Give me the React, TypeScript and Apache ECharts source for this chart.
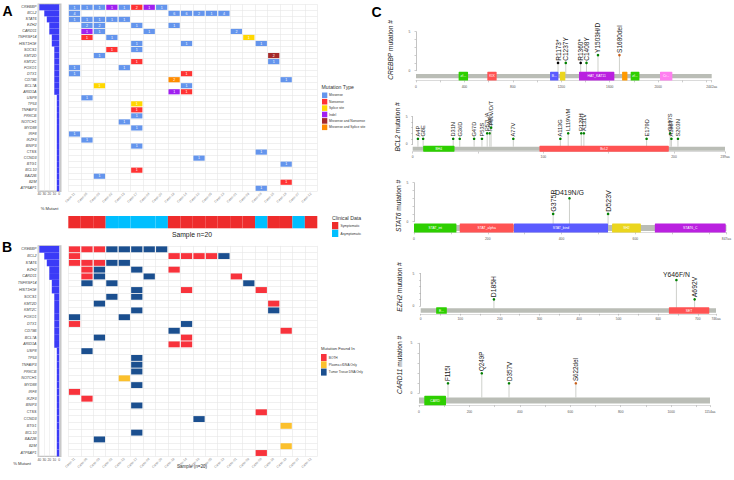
import React, { useEffect, useRef } from 'react';
import * as echarts from 'echarts';

const FONT = '"Liberation Sans", Arial, sans-serif';

// ---------------- Panels A & B data ----------------
const genes = ['CREBBP', 'BCL2', 'STAT6', 'EZH2', 'CARD11', 'TNFRSF14', 'HIST1H1E', 'SOCS1', 'KMT2D', 'KMT2C', 'FOXO1', 'DTX1', 'CD79B', 'BCL7A', 'ARID1A', 'USP8', 'TP53', 'TNFAIP3', 'PRKCB', 'NOTCH1', 'MYD88', 'IRF8', 'IKZF3', 'BNIP3', 'CTSS', 'CCND3', 'BTG1', 'BCL10', 'BAZ2B', 'B2M', 'ATP6AP1'];
const pctMutant = [40, 30, 25, 20, 20, 15, 15, 10, 10, 10, 10, 10, 10, 10, 10, 5, 5, 5, 5, 5, 5, 5, 5, 5, 5, 5, 5, 5, 5, 5, 5];
const samples = ['Case-11', 'Case-06', 'Case-03', 'Case-02', 'Case-15', 'Case-17', 'Case-04', 'Case-20', 'Case-19', 'Case-14', 'Case-10', 'Case-05', 'Case-13', 'Case-01', 'Case-09', 'Case-08', 'Case-16', 'Case-18', 'Case-07', 'Case-12'];
const clinicalCategories = ['Symptomatic', 'Asymptomatic'];
const clinicalStatus = [0, 0, 0, 1, 1, 1, 1, 1, 0, 0, 0, 0, 0, 0, 0, 1, 0, 0, 1, 0];

const mutationTypes = ['Missense', 'Nonsense', 'Splice site', 'Indel', 'Missense and Nonsense', 'Missense and Splice site'];
// [gene, sample column, mutation type index, number of mutations]
const mutationCells: [string, number, number, number][] = [
  ['CREBBP', 0, 0, 1], ['CREBBP', 1, 0, 1], ['CREBBP', 2, 0, 1], ['CREBBP', 3, 3, 1], ['CREBBP', 4, 0, 1], ['CREBBP', 5, 1, 2], ['CREBBP', 6, 3, 1], ['CREBBP', 7, 0, 1],
  ['BCL2', 0, 0, 4], ['BCL2', 8, 0, 6], ['BCL2', 9, 0, 6], ['BCL2', 10, 0, 2], ['BCL2', 11, 0, 1], ['BCL2', 12, 0, 4],
  ['STAT6', 0, 0, 1], ['STAT6', 1, 0, 1], ['STAT6', 2, 0, 1], ['STAT6', 3, 0, 1], ['STAT6', 4, 0, 1],
  ['EZH2', 1, 0, 2], ['EZH2', 2, 0, 2], ['EZH2', 5, 0, 1], ['EZH2', 8, 0, 1],
  ['CARD11', 1, 3, 1], ['CARD11', 2, 0, 1], ['CARD11', 6, 0, 1], ['CARD11', 13, 0, 2],
  ['TNFRSF14', 1, 1, 1], ['TNFRSF14', 3, 0, 1], ['TNFRSF14', 14, 2, 1],
  ['HIST1H1E', 5, 0, 1], ['HIST1H1E', 9, 0, 1], ['HIST1H1E', 15, 0, 1],
  ['SOCS1', 3, 1, 1], ['SOCS1', 5, 0, 1],
  ['KMT2D', 2, 0, 1], ['KMT2D', 16, 4, 2],
  ['KMT2C', 5, 1, 1], ['KMT2C', 16, 0, 1],
  ['FOXO1', 0, 0, 1], ['FOXO1', 4, 0, 1],
  ['DTX1', 0, 0, 1], ['DTX1', 9, 1, 1],
  ['CD79B', 8, 5, 2], ['CD79B', 17, 0, 1],
  ['BCL7A', 2, 2, 1], ['BCL7A', 9, 0, 1],
  ['ARID1A', 8, 3, 1], ['ARID1A', 9, 1, 1],
  ['USP8', 1, 0, 1], ['TP53', 5, 2, 1], ['TNFAIP3', 5, 1, 1], ['PRKCB', 5, 0, 1], ['NOTCH1', 4, 0, 1],
  ['MYD88', 5, 0, 1], ['IRF8', 0, 0, 1], ['IKZF3', 1, 0, 1], ['BNIP3', 5, 0, 1], ['CTSS', 15, 0, 1],
  ['CCND3', 10, 0, 1], ['BTG1', 17, 0, 1], ['BCL10', 5, 1, 1], ['BAZ2B', 2, 0, 1], ['B2M', 17, 1, 1], ['ATP6AP1', 15, 0, 1],
];

const sourceTypes = ['BOTH', 'Plasma cfDNA Only', 'Tumor Tissue DNA Only'];
// [gene, sample column, source index]
const sourceCells: [string, number, number][] = [
  ['CREBBP', 0, 0], ['CREBBP', 1, 0], ['CREBBP', 2, 0], ['CREBBP', 3, 2], ['CREBBP', 4, 2], ['CREBBP', 5, 2], ['CREBBP', 6, 2], ['CREBBP', 7, 2],
  ['BCL2', 0, 0], ['BCL2', 8, 0], ['BCL2', 9, 0], ['BCL2', 10, 0], ['BCL2', 11, 0], ['BCL2', 12, 2],
  ['STAT6', 0, 0], ['STAT6', 1, 0], ['STAT6', 2, 0], ['STAT6', 3, 2], ['STAT6', 4, 2],
  ['EZH2', 1, 0], ['EZH2', 2, 2], ['EZH2', 5, 2], ['EZH2', 8, 0],
  ['CARD11', 1, 0], ['CARD11', 2, 2], ['CARD11', 6, 2], ['CARD11', 13, 0],
  ['TNFRSF14', 1, 2], ['TNFRSF14', 3, 2], ['TNFRSF14', 14, 2],
  ['HIST1H1E', 5, 2], ['HIST1H1E', 9, 0], ['HIST1H1E', 15, 0],
  ['SOCS1', 3, 2], ['SOCS1', 5, 2],
  ['KMT2D', 2, 2], ['KMT2D', 16, 0],
  ['KMT2C', 5, 2], ['KMT2C', 16, 2],
  ['FOXO1', 0, 2], ['FOXO1', 4, 2],
  ['DTX1', 0, 0], ['DTX1', 9, 2],
  ['CD79B', 8, 2], ['CD79B', 17, 0],
  ['BCL7A', 2, 2], ['BCL7A', 9, 0],
  ['ARID1A', 8, 0], ['ARID1A', 9, 0],
  ['USP8', 1, 2], ['TP53', 5, 2], ['TNFAIP3', 5, 2], ['PRKCB', 5, 2], ['NOTCH1', 4, 1],
  ['MYD88', 5, 2], ['IRF8', 0, 0], ['IKZF3', 1, 0], ['BNIP3', 5, 2], ['CTSS', 15, 0],
  ['CCND3', 10, 2], ['BTG1', 17, 1], ['BCL10', 5, 2], ['BAZ2B', 2, 2], ['B2M', 17, 1], ['ATP6AP1', 15, 0],
];

// ---------------- Panel C data ----------------
// domains: [label shown, start aa, end aa, family]
// mutations: [label, position aa, count, class]
const crebbpLength = 2442;
const crebbpDomains: [string, number, number, string][] = [
  ['zf...', 352, 430, 'zf-TAZ'], ['KIX', 589, 666, 'KIX'], ['B...', 1107, 1176, 'Bromodomain'], ['', 1189, 1233, 'DUF902'],
  ['HAT_KAT11', 1346, 1638, 'HAT_KAT11'], ['', 1702, 1746, 'ZZ'], ['zf...', 1773, 1845, 'zf-TAZ'], ['Cr...', 2015, 2117, 'Creb_binding'],
];
const crebbpMutations: [string, number, number, string][] = [
  ['R1173*', 1173, 1, 'truncating'], ['C1237Y', 1237, 1, 'missense'], ['R1360*', 1360, 1, 'truncating'],
  ['C1408Y', 1408, 1, 'missense'], ['Y1503H/D', 1503, 2, 'missense'], ['S1680del', 1680, 2, 'inframe'],
];

const bcl2Length = 239;
const bcl2Domains: [string, number, number, string][] = [['BH4', 8, 32, 'BH4'], ['Bcl-2', 97, 196, 'Bcl-2']];
const bcl2Mutations: [string, number, number, string][] = [
  ['A4P', 4, 1, 'missense'], ['G8E', 8, 1, 'missense'], ['D31N', 31, 1, 'missense'], ['G36D', 36, 1, 'missense'],
  ['G47D', 47, 1, 'missense'], ['P53S', 53, 1, 'missense'], ['P57L/A', 57, 2, 'missense'], ['P59A', 59, 2, 'missense'],
  ['P60V/D/T', 60, 3, 'missense'], ['A77V', 77, 1, 'missense'], ['A113G', 113, 1, 'missense'], ['L119V/M', 119, 2, 'missense'],
  ['R129H', 129, 2, 'missense'], ['A131V', 131, 2, 'missense'], ['E179D', 179, 1, 'missense'], ['G197S', 197, 2, 'missense'],
  ['A198T', 198, 1, 'missense'], ['S203N', 203, 1, 'missense'],
];

const stat6Length = 847;
const stat6Domains: [string, number, number, string][] = [
  ['STAT_int', 0, 115, 'STAT_int'], ['STAT_alpha', 124, 270, 'STAT_alpha'], ['STAT_bind', 271, 526, 'STAT_bind'],
  ['SH2', 537, 615, 'SH2'], ['STAT6_C', 653, 845, 'STAT6_C'],
];
const stat6Mutations: [string, number, number, string][] = [
  ['G375R', 375, 1, 'missense'], ['D419N/G', 419, 3, 'missense'], ['D523V', 523, 1, 'missense'],
];

const ezh2Length = 746;
const ezh2Domains: [string, number, number, string][] = [['E...', 39, 66, 'EZH2_WD-Binding'], ['SET', 627, 729, 'SET']];
const ezh2Mutations: [string, number, number, string][] = [
  ['D185H', 185, 1, 'missense'], ['Y646F/N', 646, 4, 'missense'], ['A692V', 692, 1, 'missense'],
];

const card11Length = 1154;
const card11Domains: [string, number, number, string][] = [['CARD', 21, 107, 'CARD']];
const card11Mutations: [string, number, number, string][] = [
  ['F115I', 115, 1, 'missense'], ['Q249P', 249, 2, 'missense'], ['D357V', 357, 1, 'missense'], ['S622del', 622, 1, 'inframe'],
];

const proteins = [
  { gene: 'CREBBP', length: crebbpLength, domains: crebbpDomains, mutations: crebbpMutations, major: 400, minor: 200 },
  { gene: 'BCL2', length: bcl2Length, domains: bcl2Domains, mutations: bcl2Mutations, major: 100, minor: 50 },
  { gene: 'STAT6', length: stat6Length, domains: stat6Domains, mutations: stat6Mutations, major: 200, minor: 100 },
  { gene: 'EZH2', length: ezh2Length, domains: ezh2Domains, mutations: ezh2Mutations, major: 100, minor: 50 },
  { gene: 'CARD11', length: card11Length, domains: card11Domains, mutations: card11Mutations, major: 200, minor: 100 },
];

// ---------------- styles / layout ----------------
const typeColors = ['#6495ED', '#FF3333', '#FFD700', '#A020F0', '#A52A2A', '#FF8C00'];
const sourceColors = ['#F8333C', '#FBC02D', '#1B4F8F'];
const clinicalColors = ['#EE2C2C', '#00BFFF'];
const familyColors: Record<string, string> = {
  'zf-TAZ': '#2dcf00', KIX: '#ff5353', Bromodomain: '#5b5bff', DUF902: '#ebd61d', HAT_KAT11: '#ba21e0', ZZ: '#ff9a00',
  Creb_binding: '#ff7ff0', BH4: '#2dcf00', 'Bcl-2': '#ff5353', STAT_int: '#2dcf00', STAT_alpha: '#ff5353', STAT_bind: '#5b5bff',
  SH2: '#ebd61d', STAT6_C: '#ba21e0', 'EZH2_WD-Binding': '#2dcf00', SET: '#ff5353', CARD: '#2dcf00',
};
const mutClassColors: Record<string, string> = { missense: '#008000', truncating: '#000000', inframe: '#c8601c' };
const horizontalLabels = ['D419N/G', 'Y646F/N'];

const lolliLayout = [
  { x0: 416, x1: 711.7, yTop: 31.7, yZero: 70.7, yAxisX: 412, titleX: 390, titleY: 50, barC: 76.2, barH: 4.3, domH: 8.7, axisY: 82.7, label: 6.5 },
  { x0: 412.7, x1: 725, yTop: 116.7, yZero: 144.3, yAxisX: 409.3, titleX: 397.5, titleY: 127, barC: 148.7, barH: 4, domH: 6, axisY: 153.3, label: 5.7 },
  { x0: 414, x1: 728.3, yTop: 182.7, yZero: 221.7, yAxisX: 410, titleX: 398.5, titleY: 206, barC: 228, barH: 6, domH: 9, axisY: 235.3, label: 7 },
  { x0: 420.7, x1: 716, yTop: 273.6, yZero: 305.8, yAxisX: 416, titleX: 399, titleY: 287, barC: 310.5, barH: 4.4, domH: 6.7, axisY: 315.3, label: 6.8 },
  { x0: 419, x1: 710, yTop: 343.3, yZero: 393.3, yAxisX: 414, titleX: 399, titleY: 365, barC: 400.5, barH: 6, domH: 9.6, axisY: 408.5, label: 6.3 },
];

const HEAT_LEFT = 68.3;
const HEAT_W = 249;
const BAR_LEFT = 38.3;
const BAR_W = 22.5;
const panelA = { top: 4.3, height: 187 };
const panelB = { top: 245.9, height: 210.5 };

function tx(x: number, y: number, text: string, size: number, extra: any = {}) {
  const align = extra.align || 'left';
  const v = extra.verticalAlign || 'middle';
  const el: any = {
    type: 'text', x, y, silent: true,
    style: {
      text, fontSize: size, fontFamily: FONT, fill: extra.fill || '#333', fontWeight: extra.fontWeight || 'normal',
      align, textAlign: align, verticalAlign: v, textVerticalAlign: v,
    },
  };
  if (extra.rotation) el.rotation = extra.rotation;
  if (extra.rich) el.style.rich = extra.rich;
  return el;
}
function bx(x: number, y: number, w: number, h: number, color: string) {
  return { type: 'rect', silent: true, shape: { x, y, width: w, height: h }, style: { fill: color } };
}

function buildOption() {
  const grid: any[] = [];
  const xAxis: any[] = [];
  const yAxis: any[] = [];
  const series: any[] = [];
  const graphic: any[] = [];

  const pctFormatter = (v: number) => (v >= 0 && v <= 40 && v % 10 === 0 ? String(v) : '');

  const addBarPanel = (top: number, height: number) => {
    const gi = grid.length;
    grid.push({ left: BAR_LEFT, top, width: BAR_W, height, show: true, borderColor: '#c4c4c4', borderWidth: 1.4, backgroundColor: '#ffffff' });
    xAxis.push({
      gridIndex: gi, type: 'value', min: -3, max: 42, inverse: true, splitNumber: 5,
      axisLabel: { fontSize: 3.4, margin: 1.6, color: '#555', fontFamily: FONT, formatter: pctFormatter },
      axisLine: { show: false }, axisTick: { show: false },
      splitLine: { show: true, lineStyle: { color: '#e4e4e4', width: 0.5 } },
    });
    yAxis.push({
      gridIndex: gi, type: 'category', data: genes, inverse: true,
      axisLabel: { fontSize: 3.7, margin: 1.8, color: '#444', fontStyle: 'italic', fontFamily: FONT, interval: 0 },
      axisLine: { show: false }, axisTick: { show: false }, splitLine: { show: false },
    });
    series.push({
      type: 'bar', xAxisIndex: gi, yAxisIndex: gi, data: pctMutant, barCategoryGap: '0%',
      itemStyle: { color: '#3B3BF7' }, silent: true,
    });
  };

  const addHeatPanel = (top: number, height: number, data: number[][], renderCell: (p: any, api: any) => any) => {
    const gi = grid.length;
    grid.push({ left: HEAT_LEFT, top, width: HEAT_W, height });
    xAxis.push({
      gridIndex: gi, type: 'category', data: samples,
      axisLabel: { fontSize: 3.4, rotate: 45, interval: 0, margin: 2, color: '#888', fontFamily: FONT },
      axisLine: { show: false }, axisTick: { show: false },
      splitLine: { show: true, interval: 0, lineStyle: { color: '#e6e6e6', width: 0.6 } },
    });
    yAxis.push({
      gridIndex: gi, type: 'category', data: genes, inverse: true,
      axisLabel: { show: false }, axisLine: { show: false }, axisTick: { show: false },
      splitLine: { show: true, interval: 0, lineStyle: { color: '#e6e6e6', width: 0.6 } },
    });
    series.push({
      type: 'custom', xAxisIndex: gi, yAxisIndex: gi, data, encode: { x: 0, y: 1 }, silent: true,
      renderItem: renderCell,
    });
  };

  // ---------- Panel A ----------
  addBarPanel(panelA.top, panelA.height);
  addHeatPanel(
    panelA.top, panelA.height,
    mutationCells.map(([g, s, t, n]) => [s, genes.indexOf(g), t, n]),
    (params: any, api: any) => {
      const c = api.coord([api.value(0), api.value(1)]);
      const s = api.size([1, 1]);
      const w = s[0] - 1.2;
      const h = s[1] - 0.9;
      const t = api.value(2);
      return {
        type: 'group', children: [
          { type: 'rect', shape: { x: c[0] - w / 2, y: c[1] - h / 2, width: w, height: h }, style: { fill: typeColors[t] } },
          {
            type: 'text', x: c[0], y: c[1] + 0.2,
            style: { text: String(api.value(3)), fontSize: 3.6, fontFamily: FONT, fill: '#ffffff', align: 'center', textAlign: 'center', verticalAlign: 'middle', textVerticalAlign: 'middle' },
          },
        ],
      };
    },
  );

  // clinical strip
  {
    const gi = grid.length;
    grid.push({ left: HEAT_LEFT, top: 216, width: HEAT_W, height: 12.3 });
    xAxis.push({ gridIndex: gi, type: 'category', data: samples, show: false });
    yAxis.push({ gridIndex: gi, type: 'value', min: 0, max: 1, show: false });
    series.push({
      type: 'bar', xAxisIndex: gi, yAxisIndex: gi, barCategoryGap: '0%', silent: true,
      data: clinicalStatus.map((c) => ({ value: 1, itemStyle: { color: clinicalColors[c] } })),
    });
  }

  // ---------- Panel B ----------
  addBarPanel(panelB.top, panelB.height);
  addHeatPanel(
    panelB.top, panelB.height,
    sourceCells.map(([g, s, t]) => [s, genes.indexOf(g), t]),
    (params: any, api: any) => {
      const c = api.coord([api.value(0), api.value(1)]);
      const s = api.size([1, 1]);
      const w = s[0] - 1.2;
      const h = s[1] - 0.9;
      return { type: 'rect', shape: { x: c[0] - w / 2, y: c[1] - h / 2, width: w, height: h }, style: { fill: sourceColors[api.value(2)] } };
    },
  );

  // ---------- Panel C ----------
  proteins.forEach((prot, k) => {
    const L = lolliLayout[k];
    const len = prot.length;
    // lollipop grid
    const gi = grid.length;
    grid.push({ left: L.x0, top: L.yTop, width: L.x1 - L.x0, height: L.yZero - L.yTop });
    xAxis.push({ gridIndex: gi, type: 'value', min: 0, max: len, show: false });
    yAxis.push({
      gridIndex: gi, type: 'value', min: 0, max: 5, interval: 1, offset: L.x0 - L.yAxisX,
      axisLabel: { fontSize: 3.3, margin: 1.6, color: '#555', fontFamily: FONT, formatter: (v: number) => (v === 0 || v === 5 ? String(v) : '') },
      axisLine: { show: true, lineStyle: { color: '#9a9a9a', width: 0.6 } },
      axisTick: { show: true, length: 1.5, lineStyle: { color: '#9a9a9a', width: 0.5 } },
      splitLine: { show: false },
    });
    graphic.push(tx(L.titleX, L.titleY, `{i|${prot.gene}} mutation #`, 6.6, {
      align: 'center', fill: '#222', rotation: Math.PI / 2,
      rich: { i: { fontStyle: 'italic', fontSize: 6.6, fontFamily: FONT, fill: '#222', color: '#222' } },
    }));
    const stemExt = L.barC - L.barH / 2 - L.yZero;
    series.push({
      type: 'custom', xAxisIndex: gi, yAxisIndex: gi, silent: true, clip: false,
      data: prot.mutations.map((m) => [m[1], m[2]]), encode: { x: 0, y: 1 },
      renderItem: (params: any, api: any) => {
        const m = prot.mutations[params.dataIndex];
        const base = api.coord([api.value(0), 0]);
        const top = api.coord([api.value(0), api.value(1)]);
        const horiz = horizontalLabels.indexOf(m[0]) >= 0;
        const label = horiz
          ? {
            type: 'text', x: top[0], y: top[1] - 2.2,
            style: { text: m[0], fontSize: L.label, fontFamily: FONT, fill: '#1a1a1a', align: 'center', textAlign: 'center', verticalAlign: 'bottom', textVerticalAlign: 'bottom' },
          }
          : {
            type: 'text', x: top[0], y: top[1] - 2.2, rotation: Math.PI / 2,
            style: { text: m[0], fontSize: L.label, fontFamily: FONT, fill: '#1a1a1a', align: 'left', textAlign: 'left', verticalAlign: 'middle', textVerticalAlign: 'middle' },
          };
        return {
          type: 'group', children: [
            { type: 'line', shape: { x1: base[0], y1: base[1] + stemExt, x2: top[0], y2: top[1] }, style: { stroke: '#c2c4be', lineWidth: 0.8 } },
            { type: 'circle', shape: { cx: top[0], cy: top[1], r: 1.3 }, style: { fill: mutClassColors[m[3]] } },
            label,
          ],
        };
      },
    });

    // protein bar grid
    const gb = grid.length;
    grid.push({ left: L.x0, top: L.barC - L.domH / 2, width: L.x1 - L.x0, height: L.domH });
    xAxis.push({
      gridIndex: gb, type: 'value', min: 0, max: len, interval: prot.minor, offset: L.axisY - (L.barC + L.domH / 2),
      axisLabel: {
        fontSize: 3.3, margin: 2.2, color: '#555', fontFamily: FONT, showMaxLabel: true, showMinLabel: true,
        formatter: (v: number) => (v === len ? `${len}aa` : v % prot.major === 0 && len - v > prot.major * 0.3 ? String(v) : ''),
      },
      axisLine: { show: true, lineStyle: { color: '#b5b5b5', width: 0.5 } },
      axisTick: { show: true, length: 1.8, lineStyle: { color: '#9a9a9a', width: 0.5 } },
      splitLine: { show: false },
    });
    yAxis.push({ gridIndex: gb, type: 'value', min: 0, max: 1, show: false });
    const half = L.barH / L.domH / 2;
    series.push({
      type: 'custom', xAxisIndex: gb, yAxisIndex: gb, silent: true, clip: false,
      data: [[0, len]], encode: { x: [0, 1] },
      renderItem: (params: any, api: any) => {
        const p0 = api.coord([api.value(0), 0.5 + half]);
        const p1 = api.coord([api.value(1), 0.5 - half]);
        return { type: 'rect', shape: { x: p0[0], y: p0[1], width: p1[0] - p0[0], height: p1[1] - p0[1] }, style: { fill: '#BABDB6' } };
      },
    });
    series.push({
      type: 'custom', xAxisIndex: gb, yAxisIndex: gb, silent: true, clip: false,
      data: prot.domains.map((d) => [d[1], d[2]]), encode: { x: [0, 1] },
      renderItem: (params: any, api: any) => {
        const d = prot.domains[params.dataIndex];
        const p0 = api.coord([api.value(0), 1]);
        const p1 = api.coord([api.value(1), 0]);
        return {
          type: 'group', children: [
            { type: 'rect', shape: { x: p0[0], y: p0[1], width: p1[0] - p0[0], height: p1[1] - p0[1], r: 0.6 }, style: { fill: familyColors[d[3]] } },
            {
              type: 'text', x: (p0[0] + p1[0]) / 2, y: (p0[1] + p1[1]) / 2,
              style: { text: d[0], fontSize: 3.4, fontFamily: FONT, fill: '#ffffff', align: 'center', textAlign: 'center', verticalAlign: 'middle', textVerticalAlign: 'middle' },
            },
          ],
        };
      },
    });
  });

  // ---------- texts & legends ----------
  graphic.push(tx(2.5, 11, 'A', 14, { fontWeight: 'bold', fill: '#000' }));
  graphic.push(tx(2, 247, 'B', 14, { fontWeight: 'bold', fill: '#000' }));
  graphic.push(tx(371.5, 11.5, 'C', 14, { fontWeight: 'bold', fill: '#000' }));

  graphic.push(tx(49.5, 208, '% Mutant', 4.2, { align: 'center' }));
  graphic.push(tx(192, 234, 'Sample n=20', 6.8, { align: 'center', fill: '#222' }));
  graphic.push(tx(22, 463, '% Mutant', 4.2, { align: 'center' }));
  graphic.push(tx(192, 466, 'Sample (n=20)', 4.6, { align: 'center' }));

  graphic.push(tx(321.5, 87, 'Mutation Type', 5.2));
  mutationTypes.forEach((t, i) => {
    graphic.push(bx(322, 92.5 + i * 6.4, 5.3, 5.6, typeColors[i]));
    graphic.push(tx(329, 95.3 + i * 6.4, t, 3.3));
  });

  graphic.push(tx(332, 218, 'Clinical Data', 5.2));
  clinicalCategories.forEach((c, i) => {
    graphic.push(bx(332, 222 + i * 7.7, 6.3, 7.3, clinicalColors[i]));
    graphic.push(tx(340.5, 225.7 + i * 7.7, c, 3.3));
  });

  graphic.push(tx(321, 348, 'Mutation Found In', 4.2));
  sourceTypes.forEach((c, i) => {
    graphic.push(bx(321, 354 + i * 7.3, 5.6, 7, sourceColors[i]));
    graphic.push(tx(328.8, 357.5 + i * 7.3, c, 3.2));
  });

  return {
    animation: false,
    backgroundColor: '#ffffff',
    textStyle: { fontFamily: FONT },
    grid, xAxis, yAxis, series, graphic,
  };
}

export default function App() {
  const ref = useRef<HTMLDivElement>(null);
  useEffect(() => {
    const chart = echarts.init(ref.current as HTMLDivElement, null, { renderer: 'svg' });
    chart.setOption(buildOption() as any);
    return () => chart.dispose();
  }, []);
  return <div ref={ref} style={{ position: 'fixed', left: 0, top: 0, width: 734, height: 480, background: '#fff' }} />;
}
